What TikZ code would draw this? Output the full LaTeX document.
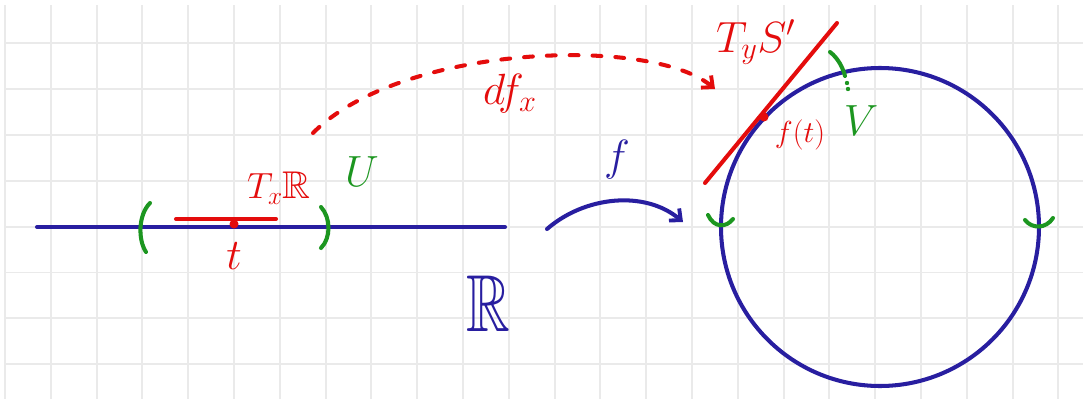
\documentclass[tikz,border=0pt]{standalone}
\usepackage{amssymb}
\usetikzlibrary{arrows.meta}
\definecolor{penred}{RGB}{228,12,12}
\definecolor{pengreen}{RGB}{28,150,32}
\definecolor{penblue}{RGB}{40,30,160}
\definecolor{gridgrey}{RGB}{234,234,234}
\tikzset{
  gridline/.style={draw=gridgrey, line width=1.1pt},
  bluepen/.style={draw=penblue, line width=2.3pt, line cap=round},
  redpen/.style={draw=penred, line width=2.3pt, line cap=round},
  greenpen/.style={draw=pengreen, line width=2.3pt, line cap=round},
  lbl/.style={inner sep=0pt, outer sep=0pt},
  barb/.style={-{Straight Barb[length=5pt,width=9pt,line width=2.2pt]}}
}
\begin{document}
\begin{tikzpicture}[x=0.02cm,y=-0.02cm]
\useasboundingbox (0,0) rectangle (1083,399);
\fill[white] (0,0) rectangle (1083,399);
% grid paper
\foreach \i in {0,...,23} \draw[gridline] ({5+45.8*\i},5) -- ({5+45.8*\i},399);
\foreach \j in {0,...,7} \draw[gridline] (5,{43+45.9*\j}) -- (1083,{43+45.9*\j});

% real line
\coordinate (lineL) at (37,227);
\coordinate (lineR) at (505,227);
\draw[bluepen] (lineL) -- (lineR);
% tangent segment T_x R
\coordinate (tsegL) at (176,219);
\coordinate (tsegR) at (276,219);
\draw[redpen] (tsegL) -- (tsegR);
\fill[penred] (234,224) circle (4.5);
% open set U brackets
\draw[greenpen] (150,203) .. controls (138,215) and (138,240) .. (146,252);
\draw[greenpen] (321,207) .. controls (331,218) and (331,238) .. (321,248);

% labels on the left
\node[lbl, text=penred] (t) at (234,256) {\fontsize{30}{30}\selectfont $t$};
\node[lbl, text=penred] (TxR) at (279,188) {\fontsize{22}{22}\selectfont $T_{x}\mathbb{R}$};
\node[lbl, text=pengreen] (U) at (362,172) {\fontsize{34}{34}\selectfont $U$};
\node[lbl, text=penblue] (R) at (488,304) {\scalebox{0.75}[1]{\fontsize{46}{46}\selectfont $\mathbb{R}$}};

% circle S^1
\coordinate (C) at (880,227);
\draw[bluepen] (C) circle (159);
% green ticks of V
\draw[greenpen] (708,215) .. controls (714,228) and (726,228) .. (733,219);
\draw[greenpen] (1025,220) .. controls (1032,229) and (1046,229) .. (1053,218);
\draw[greenpen] (830,52) .. controls (838,58) and (843,68) .. (845,76);
\fill[pengreen] (847,83) circle (2.2);
\fill[pengreen] (848,89) circle (2.2);
\node[lbl, text=pengreen] (V) at (861,121) {\fontsize{30}{30}\selectfont $V$};

% tangent line T_y S^1
\coordinate (tanA) at (705,183);
\coordinate (tanB) at (837,23);
\draw[redpen] (tanA) -- (tanB);
\fill[penred] (764,117) circle (4.5);
\node[lbl, text=penred] (ft) at (800,135) {\fontsize{19}{19}\selectfont $f(t)$};
\node[lbl, text=penred] (TyS) at (756,42) {\fontsize{26}{26}\selectfont $T_{y}S'$};

% map f
\coordinate (fA) at (547,229);
\coordinate (fB) at (683,222);
\draw[bluepen, barb] (fA) .. controls (585,196) and (645,190) .. (fB);
\node[lbl, text=penblue] (f) at (617,160) {\fontsize{40}{40}\selectfont $f$};

% differential df_x
\coordinate (dA) at (313,133);
\coordinate (dB) at (715,89);
\draw[redpen, barb, dash pattern=on 5pt off 8pt] (dA) .. controls (400,45) and (650,35) .. (dB);
\node[lbl, text=penred] (dfx) at (510,94) {\fontsize{26}{26}\selectfont $df_{x}$};
\end{tikzpicture}
\end{document}
